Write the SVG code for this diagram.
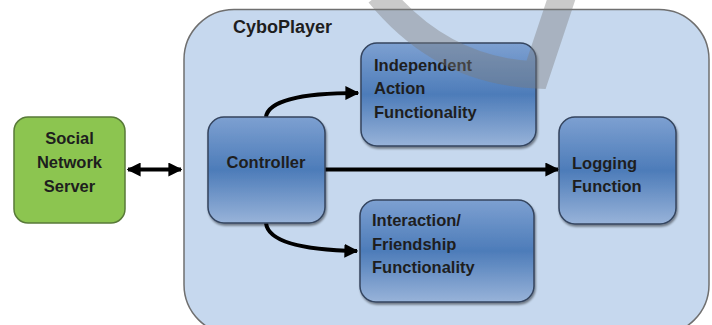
<svg xmlns="http://www.w3.org/2000/svg" width="712" height="325" viewBox="0 0 712 325">
<style>
.t{font-family:"Liberation Sans",Arial,sans-serif;font-weight:bold;font-size:16.5px;fill:#1e1e1e}
.title{font-size:18px}
.box{fill:url(#blue);stroke:#34445e;stroke-width:1.5}
.conn{fill:none;stroke:#000;stroke-width:4}
</style>
<defs>
<linearGradient id="blue" x1="0" y1="0" x2="0" y2="1">
<stop offset="0" stop-color="#7da0d1"/>
<stop offset="0.5" stop-color="#4d7cb9"/>
<stop offset="1" stop-color="#98b3d9"/>
</linearGradient>
<filter id="sh" x="-10%" y="-10%" width="130%" height="130%">
<feDropShadow dx="1" dy="2" stdDeviation="1.2" flood-color="#000" flood-opacity="0.45"/>
</filter>
<marker id="ah" viewBox="0 0 10 10" refX="9" refY="5" markerWidth="3.5" markerHeight="3.5" orient="auto-start-reverse" markerUnits="strokeWidth">
<path d="M0,0 L10,5 L0,10 Z" fill="#000"/>
</marker>
</defs>
<rect width="712" height="325" fill="#fff"/>
<g id="cyboplayer">
<rect x="184" y="9.5" width="525" height="325" rx="50" fill="#c6d8ee" stroke="#6f6f6f" stroke-width="1.5"/>
<text class="t title" x="233" y="33">CyboPlayer</text>
</g>
<g id="social">
<rect x="14" y="117" width="111" height="106" rx="14" fill="#8cc550" stroke="#587a38" stroke-width="1.5"/>
<text class="t" x="69.5" y="144" text-anchor="middle">Social</text>
<text class="t" x="69.5" y="168" text-anchor="middle">Network</text>
<text class="t" x="69.5" y="192" text-anchor="middle">Server</text>
</g>
<g id="connectors">
<line class="conn" x1="128" y1="169.5" x2="181" y2="169.5" marker-start="url(#ah)" marker-end="url(#ah)"/>
<line class="conn" x1="325" y1="169.5" x2="558" y2="169.5" marker-end="url(#ah)"/>
<path class="conn" d="M266 117 C268 101 300 93 358 93" marker-end="url(#ah)"/>
<path class="conn" d="M266 223 C268 241 300 250 357 251" marker-end="url(#ah)"/>
</g>
<g id="controller">
<rect class="box" x="208" y="117" width="117" height="106" rx="16" filter="url(#sh)"/>
<text class="t" x="266" y="168" text-anchor="middle">Controller</text>
</g>
<g id="independent">
<rect class="box" x="361" y="43" width="175" height="103" rx="16" filter="url(#sh)"/>
<text class="t" x="374" y="71">Independent</text>
<text class="t" x="374" y="94">Action</text>
<text class="t" x="374" y="118">Functionality</text>
</g>
<g id="logging">
<rect class="box" x="559" y="117" width="117" height="107" rx="16" filter="url(#sh)"/>
<text class="t" x="572" y="169">Logging</text>
<text class="t" x="572" y="192">Function</text>
</g>
<g id="interaction">
<rect class="box" x="360" y="200" width="174" height="102" rx="16" filter="url(#sh)"/>
<text class="t" x="372" y="226">Interaction/</text>
<text class="t" x="372" y="250">Friendship</text>
<text class="t" x="372" y="273">Functionality</text>
</g>
<path d="M379 -6 C415 38 465 72 536 75 L563 -6" fill="none" stroke="#7a7a7a" stroke-opacity="0.4" stroke-width="27" stroke-linejoin="miter"/>
</svg>
